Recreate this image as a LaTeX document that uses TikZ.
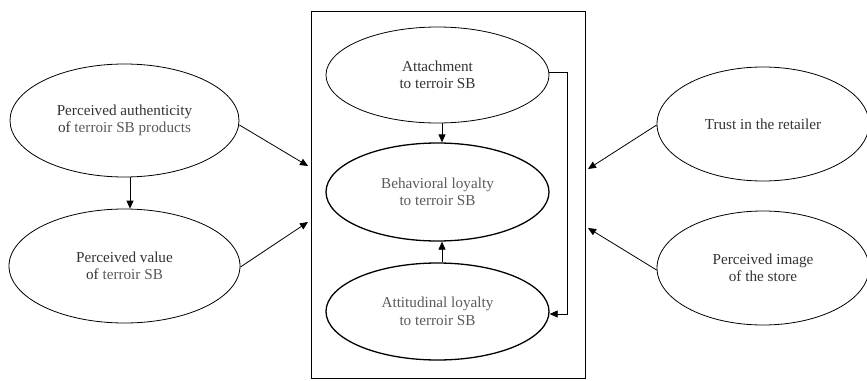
\documentclass[tikz,border=0pt]{standalone}
\usepackage{fontspec}
\setmainfont{Liberation Serif}
\usetikzlibrary{shapes.geometric,arrows.meta}
\definecolor{txt}{HTML}{333333}
\definecolor{ltxt}{HTML}{5A5A5A}
\begin{document}
\begin{tikzpicture}[x=1pt,y=-1pt,
  ell/.style={draw=black,line width=0.8pt,ellipse,inner sep=0pt,align=center,
    font=\fontsize{15.2}{17.5}\selectfont,text=txt},
  thick ell/.style={ell,line width=1.3pt},
  arr/.style={-{Triangle[length=8pt,width=7pt]},line width=0.8pt},
  frame/.style={draw=black,line width=0.9pt}]
\useasboundingbox (0,0) rectangle (867,380);
\node[frame,minimum width=274pt,minimum height=367pt,inner sep=0pt] (box) at (448,194.5) {};
% left
\node[ell,minimum width=229pt,minimum height=113pt] (auth) at (124.5,120.5)
  {Perceived authenticity\\of {\color{ltxt}terroir SB products}};
\node[ell,minimum width=231pt,minimum height=114pt] (val) at (124.5,266)
  {Perceived value\\of {\color{ltxt}terroir SB}};
% centre
\node[ell,minimum width=223pt,minimum height=96pt] (att) at (437.5,75)
  {Attachment\\to terroir SB};
\node[thick ell,minimum width=223pt,minimum height=98pt,text=ltxt] (beh) at (437.5,192)
  {Behavioral loyalty\\to terroir SB};
\node[thick ell,minimum width=223pt,minimum height=97pt,text=ltxt] (atl) at (437.5,311.5)
  {Attitudinal loyalty\\to terroir SB};
% right
\node[ell,minimum width=212pt,minimum height=114pt] (trust) at (763,124)
  {Trust in the retailer};
\node[ell,minimum width=212pt,minimum height=114pt] (img) at (763,268)
  {Perceived image\\of the store};
% coordinates
\coordinate (a1) at (308,166);
\coordinate (a2) at (308,222);
\coordinate (a3) at (588,169);
\coordinate (a4) at (588,228);
\coordinate (br1) at (567,72);
\coordinate (br2) at (567,314);
% arrows
\draw[arr] (auth.south -| 130,0) -- (val.north -| 130,0);
\draw[arr] (auth.east |- 0,125) -- (a1);
\draw[arr] (val.east |- 0,267) -- (a2);
\draw[arr] (att.south -| 442,0) -- (beh.north -| 442,0);
\draw[arr] (atl.north -| 442,0) -- (beh.south -| 442,0);
\draw[arr] (att.east |- 0,72) -- (br1) -- (br2) -- (atl.east |- 0,314);
\draw[arr] (trust.west |- 0,125) -- (a3);
\draw[arr] (img.west |- 0,270) -- (a4);
\end{tikzpicture}
\end{document}
